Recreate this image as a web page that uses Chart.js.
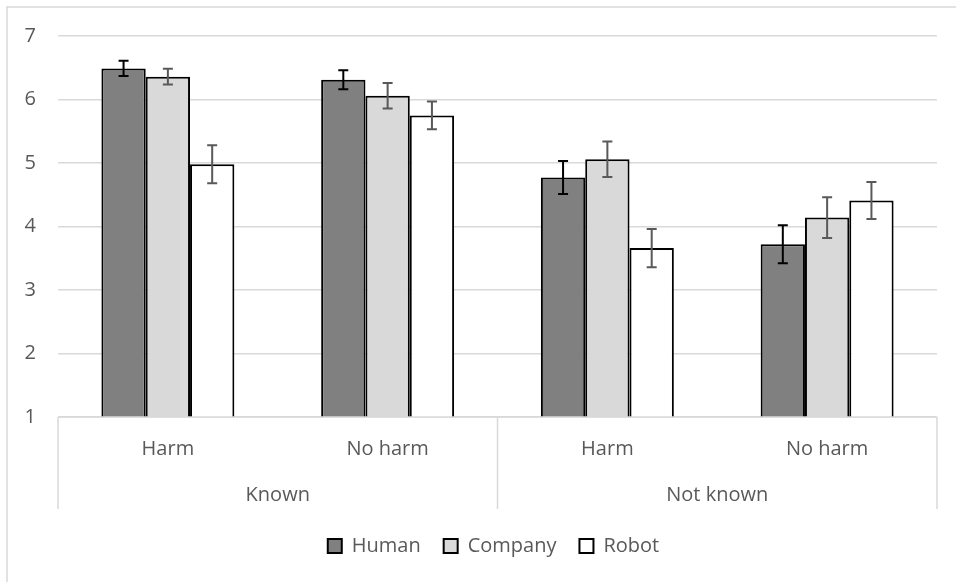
<!DOCTYPE html>
<html>
<head>
<meta charset="utf-8">
<script src="https://cdn.jsdelivr.net/npm/chart.js@4"></script>
<style>
  html, body { margin: 0; padding: 0; background: #fff; }
  #wrap { width: 956px; height: 582px; }
</style>
</head>
<body>
<div id="wrap"><canvas id="chart"></canvas></div>
<script>
const conditions = ['Harm', 'No harm', 'Harm', 'No harm'];
const groups = ['Known', 'Not known'];
const yTicks = [1, 2, 3, 4, 5, 6, 7];

const human = [6.49, 6.31, 4.77, 3.72];
const humanErr = [0.12, 0.15, 0.26, 0.30];
const company = [6.36, 6.06, 5.06, 4.14];
const companyErr = [0.125, 0.20, 0.28, 0.32];
const robot = [4.98, 5.75, 3.66, 4.41];
const robotErr = [0.30, 0.22, 0.30, 0.29];

const grid = '#d9d9d9';
const text = '#595959';

Chart.defaults.font.family = "'Open Sans', sans-serif";
Chart.defaults.font.size = 20;
Chart.defaults.color = text;

// outer frame, like the spreadsheet chart border
const frame = {
    id: 'frame',
    beforeDraw(chart) {
        const ctx = chart.ctx;
        ctx.save();
        ctx.fillStyle = '#fff';
        ctx.fillRect(0, 0, chart.width, chart.height);
        ctx.strokeStyle = grid;
        ctx.lineWidth = 1.5;
        ctx.strokeRect(7, 7, chart.width + 20, chart.height + 20);
        ctx.restore();
    }
};

// legend sits centred under the plot area, not the whole canvas
const legendShift = {
    id: 'legendShift',
    afterLayout(chart) {
        const lg = chart.legend;
        const a = chart.chartArea;
        const dx = (a.left + a.right) / 2 - (lg.left + lg.right) / 2 - 4;
        lg.left += dx;
        lg.right += dx;
    }
};

// vertical error bars taken from the y scale
const errorBars = {
    id: 'errorBars',
    afterDatasetsDraw(chart) {
        const ctx = chart.ctx;
        const y = chart.scales.y;
        chart.data.datasets.forEach((ds, i) => {
            const meta = chart.getDatasetMeta(i);
            ctx.save();
            ctx.strokeStyle = ds.errorColor;
            ctx.lineWidth = 2;
            meta.data.forEach((bar, j) => {
                const hi = y.getPixelForValue(ds.data[j] + ds.errors[j]);
                const lo = y.getPixelForValue(ds.data[j] - ds.errors[j]);
                ctx.beginPath();
                ctx.moveTo(bar.x, hi); ctx.lineTo(bar.x, lo);
                ctx.moveTo(bar.x - 5, hi); ctx.lineTo(bar.x + 5, hi);
                ctx.moveTo(bar.x - 5, lo); ctx.lineTo(bar.x + 5, lo);
                ctx.stroke();
            });
            ctx.restore();
        });
    }
};

// table lines between the two category levels
const tableLines = {
    id: 'tableLines',
    afterDraw(chart) {
        const ctx = chart.ctx;
        const x = chart.scales.x;
        const x2 = chart.scales.x2;
        const top = chart.chartArea.bottom;
        const bottom = x.bottom + (x.bottom - top);
        const xs = [x2.left, x2.getPixelForValue(0.5), x2.right];
        ctx.save();
        ctx.strokeStyle = grid;
        ctx.lineWidth = 1.5;
        ctx.beginPath();
        ctx.moveTo(x2.left, top); ctx.lineTo(x2.right, top);
        xs.forEach(px => { ctx.moveTo(px, top); ctx.lineTo(px, bottom); });
        ctx.stroke();
        ctx.restore();
    }
};

new Chart(document.getElementById('chart'), {
    type: 'bar',
    data: {
        labels: conditions,
        datasets: [{
            label: 'Human',
            data: human,
            errors: humanErr,
            errorColor: '#000',
            backgroundColor: '#808080'
        },
        {
            label: 'Company',
            data: company,
            errors: companyErr,
            errorColor: '#595959',
            backgroundColor: '#d9d9d9'
        },
        {
            label: 'Robot',
            data: robot,
            errors: robotErr,
            errorColor: '#595959',
            backgroundColor: '#ffffff'
        }]
    },
    options: {
        responsive: true,
        maintainAspectRatio: false,
        animation: false,
        layout: { padding: { top: 36, right: 19, left: 0, bottom: 16 } },
        datasets: {
            bar: {
                borderColor: '#000',
                borderWidth: 2,
                borderSkipped: false,
                categoryPercentage: 0.605,
                barPercentage: 1
            }
        },
        scales: {
            y: {
                min: yTicks[0],
                max: yTicks[yTicks.length - 1],
                afterBuildTicks: s => { s.ticks = yTicks.map(v => ({ value: v })); },
                afterFit: s => { s.width = 58; },
                border: { display: false },
                grid: { color: grid, lineWidth: 1.5, drawTicks: false },
                ticks: { padding: 22 }
            },
            x: {
                weight: 1,
                afterFit: s => { s.height = 46; },
                border: { display: false },
                grid: { display: false },
                ticks: { padding: 12 }
            },
            x2: {
                type: 'category',
                labels: groups,
                position: 'bottom',
                offset: true,
                weight: 2,
                afterFit: s => { s.height = 50; },
                border: { display: false },
                grid: { display: false },
                ticks: { padding: 12 }
            }
        },
        plugins: {
            tooltip: { enabled: false },
            legend: {
                position: 'bottom',
                labels: {
                    boxWidth: 14,
                    boxHeight: 14,
                    padding: 23,
                    generateLabels: chart => chart.data.datasets.map((ds, i) => ({
                        text: ds.label,
                        fillStyle: ds.backgroundColor,
                        strokeStyle: '#000',
                        lineWidth: 2,
                        fontColor: text,
                        datasetIndex: i
                    }))
                }
            }
        }
    },
    plugins: [frame, legendShift, errorBars, tableLines]
});
</script>
</body>
</html>
